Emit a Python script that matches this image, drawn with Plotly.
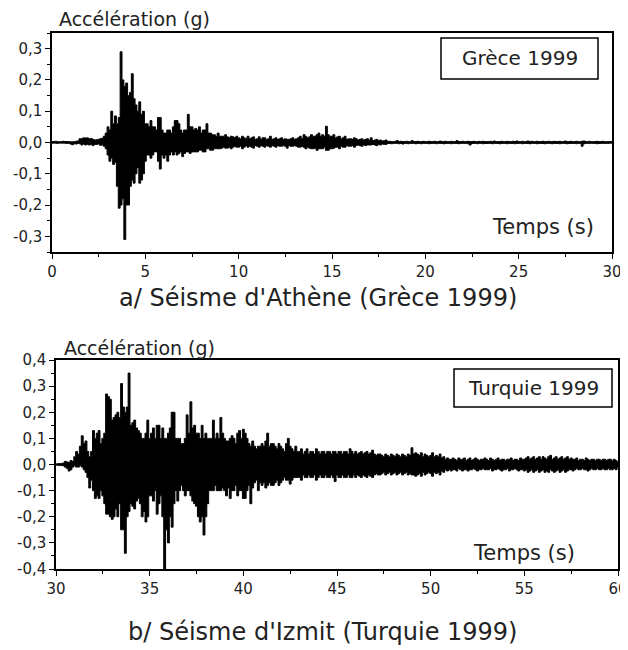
import plotly.graph_objects as go

# accelerogramme Grece 1999 : enveloppes haute et basse lues tous les 0.1 s (t = 0 a 30 s)
grece_t0 = 0.0
grece_dt = 0.1
grece_haut = [
    0.003, 0.003, 0.004, 0.003, 0.003, 0.003, 0.004, 0.003, 0.003, 0.003,
    0.002, 0.002, 0.003, 0.004, 0.005, 0.012, 0.012, 0.015, 0.014, 0.015,
    0.012, 0.013, 0.01, 0.008, 0.009, 0.01, 0.012, 0.014, 0.02, 0.03,
    0.05, 0.04, 0.1, 0.06, 0.085, 0.06, 0.08, 0.29, 0.2, 0.18,
    0.19, 0.15, 0.16, 0.22, 0.14, 0.12, 0.1, 0.13, 0.09, 0.1,
    0.06, 0.06, 0.05, 0.07, 0.05, 0.05, 0.04, 0.08, 0.08, 0.04,
    0.03, 0.03, 0.04, 0.04, 0.03, 0.05, 0.07, 0.07, 0.06, 0.04,
    0.03, 0.04, 0.04, 0.09, 0.05, 0.05, 0.04, 0.045, 0.04, 0.05,
    0.03, 0.04, 0.04, 0.06, 0.03, 0.03, 0.025, 0.025, 0.02, 0.03,
    0.02, 0.02, 0.02, 0.025, 0.018, 0.015, 0.02, 0.018, 0.015, 0.02,
    0.015, 0.012, 0.02, 0.015, 0.012, 0.02, 0.012, 0.015, 0.018, 0.01,
    0.012, 0.018, 0.01, 0.015, 0.015, 0.01, 0.012, 0.02, 0.01, 0.012,
    0.015, 0.01, 0.012, 0.015, 0.01, 0.012, 0.01, 0.01, 0.012, 0.015,
    0.01, 0.012, 0.015, 0.02, 0.012, 0.025, 0.02, 0.015, 0.018, 0.025,
    0.02, 0.02, 0.025, 0.03, 0.02, 0.025, 0.02, 0.052, 0.025, 0.02,
    0.02, 0.025, 0.015, 0.018, 0.02, 0.012, 0.015, 0.02, 0.01, 0.012,
    0.012, 0.01, 0.015, 0.012, 0.008, 0.01, 0.012, 0.008, 0.01, 0.012,
    0.008, 0.015, 0.006, 0.008, 0.01, 0.006, 0.008, 0.005, 0.006, 0.008,
    0.003, 0.004, 0.003, 0.003, 0.004, 0.006, 0.003, 0.004, 0.003, 0.003,
    0.004, 0.003, 0.003, 0.006, 0.003, 0.003, 0.004, 0.003, 0.003, 0.004,
    0.003, 0.003, 0.004, 0.003, 0.003, 0.004, 0.003, 0.003, 0.005, 0.003,
    0.003, 0.004, 0.003, 0.003, 0.004, 0.003, 0.003, 0.006, 0.003, 0.003,
    0.004, 0.003, 0.003, 0.004, 0.003, 0.003, 0.004, 0.003, 0.003, 0.004,
    0.003, 0.004, 0.003, 0.003, 0.003, 0.004, 0.003, 0.005, 0.003, 0.003,
    0.003, 0.004, 0.003, 0.003, 0.004, 0.003, 0.003, 0.004, 0.003, 0.005,
    0.003, 0.003, 0.004, 0.003, 0.003, 0.005, 0.003, 0.004, 0.003, 0.003,
    0.004, 0.003, 0.003, 0.004, 0.003, 0.003, 0.004, 0.003, 0.003, 0.004,
    0.003, 0.003, 0.004, 0.003, 0.003, 0.005, 0.003, 0.003, 0.004, 0.003,
    0.003, 0.004, 0.003, 0.003, 0.004, 0.005, 0.003, 0.003, 0.004, 0.003,
    0.003, 0.003, 0.004, 0.003, 0.003, 0.004, 0.003, 0.003, 0.003, 0.003,
    0.003,
]
grece_bas = [
    -0.002, -0.002, -0.002, -0.003, -0.002, -0.002, -0.002, -0.002, -0.003, -0.002,
    -0.005, -0.007, -0.004, -0.005, -0.003, -0.004, -0.008, -0.005, -0.008, -0.006,
    -0.008, -0.006, -0.01, -0.006, -0.006, -0.005, -0.009, -0.008, -0.012, -0.02,
    -0.04, -0.06, -0.05, -0.07, -0.063, -0.14, -0.21, -0.2, -0.18, -0.31,
    -0.2, -0.2, -0.14, -0.12, -0.13, -0.1, -0.08, -0.13, -0.12, -0.1,
    -0.06, -0.04, -0.04, -0.05, -0.04, -0.03, -0.03, -0.06, -0.085, -0.04,
    -0.05, -0.04, -0.06, -0.04, -0.03, -0.04, -0.03, -0.04, -0.035, -0.03,
    -0.045, -0.035, -0.03, -0.03, -0.035, -0.03, -0.03, -0.03, -0.03, -0.025,
    -0.025, -0.03, -0.03, -0.02, -0.02, -0.025, -0.025, -0.02, -0.02, -0.02,
    -0.02, -0.018, -0.015, -0.018, -0.018, -0.015, -0.02, -0.015, -0.012, -0.015,
    -0.015, -0.012, -0.02, -0.015, -0.01, -0.015, -0.012, -0.015, -0.018, -0.01,
    -0.012, -0.015, -0.01, -0.012, -0.015, -0.01, -0.012, -0.015, -0.01, -0.012,
    -0.015, -0.01, -0.012, -0.012, -0.01, -0.012, -0.018, -0.01, -0.012, -0.012,
    -0.01, -0.012, -0.015, -0.015, -0.012, -0.015, -0.02, -0.015, -0.018, -0.02,
    -0.02, -0.018, -0.025, -0.02, -0.02, -0.02, -0.015, -0.025, -0.025, -0.02,
    -0.02, -0.018, -0.015, -0.015, -0.02, -0.012, -0.015, -0.015, -0.01, -0.012,
    -0.012, -0.01, -0.015, -0.01, -0.008, -0.01, -0.012, -0.008, -0.01, -0.008,
    -0.008, -0.008, -0.006, -0.008, -0.01, -0.006, -0.008, -0.005, -0.006, -0.006,
    -0.003, -0.003, -0.004, -0.003, -0.003, -0.003, -0.004, -0.003, -0.005, -0.003,
    -0.003, -0.004, -0.003, -0.003, -0.003, -0.004, -0.003, -0.003, -0.004, -0.003,
    -0.003, -0.003, -0.004, -0.003, -0.003, -0.003, -0.004, -0.003, -0.003, -0.003,
    -0.004, -0.003, -0.003, -0.003, -0.004, -0.003, -0.003, -0.003, -0.004, -0.003,
    -0.003, -0.003, -0.003, -0.004, -0.008, -0.003, -0.003, -0.003, -0.004, -0.003,
    -0.003, -0.004, -0.003, -0.003, -0.003, -0.003, -0.004, -0.003, -0.003, -0.003,
    -0.004, -0.003, -0.003, -0.003, -0.004, -0.003, -0.003, -0.003, -0.004, -0.003,
    -0.003, -0.003, -0.004, -0.003, -0.003, -0.003, -0.004, -0.003, -0.003, -0.003,
    -0.004, -0.003, -0.003, -0.003, -0.004, -0.003, -0.003, -0.003, -0.004, -0.003,
    -0.003, -0.003, -0.004, -0.003, -0.003, -0.003, -0.004, -0.003, -0.003, -0.003,
    -0.003, -0.004, -0.003, -0.003, -0.012, -0.004, -0.003, -0.003, -0.003, -0.003,
    -0.003, -0.003, -0.004, -0.003, -0.003, -0.003, -0.003, -0.003, -0.003, -0.002,
    -0.002,
]

# accelerogramme Turquie 1999 : enveloppes haute et basse lues tous les 0.1 s (t = 30 a 60 s)
turquie_t0 = 30.0
turquie_dt = 0.1
turquie_haut = [
    0.002, 0.003, 0.004, 0.004, 0.006, 0.012, 0.01, 0.008, 0.015, 0.012,
    0.03, 0.05, 0.04, 0.07, 0.11, 0.08, 0.09, 0.05, 0.03, 0.05,
    0.13, 0.1, 0.12, 0.13, 0.08, 0.1, 0.12, 0.27, 0.26, 0.25,
    0.17, 0.18, 0.19, 0.2, 0.18, 0.31, 0.22, 0.2, 0.22, 0.35,
    0.15, 0.16, 0.17, 0.14, 0.13, 0.12, 0.1, 0.1, 0.12, 0.17,
    0.1, 0.12, 0.14, 0.1, 0.15, 0.15, 0.1, 0.14, 0.1, 0.1,
    0.12, 0.14, 0.2, 0.2, 0.1, 0.1, 0.1, 0.08, 0.08, 0.1,
    0.19, 0.12, 0.24, 0.14, 0.15, 0.12, 0.12, 0.1, 0.15, 0.1,
    0.12, 0.1, 0.1, 0.1, 0.17, 0.1, 0.12, 0.1, 0.18, 0.12,
    0.1, 0.09, 0.09, 0.1, 0.11, 0.1, 0.08, 0.12, 0.13, 0.1,
    0.135, 0.12, 0.1, 0.08, 0.07, 0.09, 0.07, 0.06, 0.07, 0.07,
    0.08, 0.07, 0.09, 0.12, 0.07, 0.08, 0.08, 0.07, 0.06, 0.08,
    0.07, 0.06, 0.05, 0.08, 0.1, 0.07, 0.06, 0.05, 0.07, 0.05,
    0.05, 0.06, 0.04, 0.05, 0.06, 0.04, 0.05, 0.05, 0.04, 0.06,
    0.05, 0.04, 0.05, 0.05, 0.04, 0.05, 0.05, 0.04, 0.05, 0.05,
    0.04, 0.05, 0.05, 0.04, 0.05, 0.05, 0.04, 0.06, 0.05, 0.04,
    0.05, 0.04, 0.045, 0.05, 0.04, 0.045, 0.05, 0.04, 0.045, 0.055,
    0.04, 0.035, 0.04, 0.04, 0.035, 0.03, 0.04, 0.035, 0.03, 0.04,
    0.035, 0.03, 0.04, 0.035, 0.03, 0.04, 0.035, 0.03, 0.04, 0.035,
    0.064, 0.04, 0.045, 0.04, 0.035, 0.045, 0.03, 0.04, 0.035, 0.03,
    0.035, 0.045, 0.03, 0.035, 0.03, 0.04, 0.025, 0.03, 0.02, 0.025,
    0.02, 0.02, 0.025, 0.02, 0.015, 0.025, 0.02, 0.02, 0.025, 0.015,
    0.02, 0.025, 0.015, 0.02, 0.025, 0.02, 0.015, 0.02, 0.02, 0.025,
    0.02, 0.015, 0.025, 0.02, 0.015, 0.02, 0.025, 0.015, 0.02, 0.02,
    0.015, 0.02, 0.02, 0.025, 0.015, 0.02, 0.02, 0.015, 0.025, 0.02,
    0.02, 0.025, 0.03, 0.02, 0.025, 0.03, 0.02, 0.025, 0.03, 0.02,
    0.03, 0.025, 0.02, 0.03, 0.035, 0.02, 0.025, 0.03, 0.02, 0.025,
    0.03, 0.02, 0.025, 0.03, 0.02, 0.025, 0.02, 0.02, 0.025, 0.015,
    0.02, 0.02, 0.015, 0.025, 0.02, 0.015, 0.02, 0.02, 0.015, 0.02,
    0.02, 0.015, 0.02, 0.02, 0.015, 0.02, 0.02, 0.015, 0.02, 0.015,
    0.01,
]
turquie_bas = [
    -0.002, -0.003, -0.004, -0.004, -0.005, -0.01, -0.015, -0.025, -0.02, -0.01,
    -0.005, -0.01, -0.01, -0.005, -0.01, -0.02, -0.03, -0.05, -0.09, -0.06,
    -0.1, -0.13, -0.12, -0.13, -0.1, -0.12, -0.15, -0.19, -0.19, -0.2,
    -0.21, -0.2, -0.17, -0.2, -0.15, -0.25, -0.25, -0.34, -0.2, -0.18,
    -0.15, -0.16, -0.17, -0.14, -0.13, -0.15, -0.2, -0.18, -0.22, -0.2,
    -0.12, -0.12, -0.14, -0.1, -0.19, -0.15, -0.12, -0.2, -0.4, -0.25,
    -0.3, -0.2, -0.24, -0.15, -0.1, -0.14, -0.1, -0.08, -0.1, -0.12,
    -0.1, -0.1, -0.12, -0.14, -0.15, -0.16, -0.2, -0.22, -0.2, -0.27,
    -0.2, -0.15, -0.1, -0.1, -0.1, -0.08, -0.1, -0.1, -0.1, -0.09,
    -0.1, -0.12, -0.09, -0.13, -0.1, -0.1, -0.08, -0.12, -0.1, -0.1,
    -0.13, -0.13, -0.1, -0.08, -0.15, -0.09, -0.07, -0.06, -0.1, -0.07,
    -0.08, -0.07, -0.09, -0.08, -0.07, -0.08, -0.08, -0.07, -0.06, -0.08,
    -0.07, -0.06, -0.05, -0.06, -0.06, -0.075, -0.06, -0.05, -0.05, -0.05,
    -0.05, -0.06, -0.04, -0.05, -0.05, -0.04, -0.05, -0.05, -0.04, -0.06,
    -0.05, -0.04, -0.05, -0.05, -0.04, -0.05, -0.05, -0.04, -0.05, -0.065,
    -0.04, -0.05, -0.05, -0.04, -0.05, -0.05, -0.04, -0.05, -0.05, -0.04,
    -0.05, -0.04, -0.045, -0.05, -0.04, -0.045, -0.05, -0.04, -0.045, -0.05,
    -0.04, -0.035, -0.04, -0.04, -0.035, -0.03, -0.04, -0.035, -0.03, -0.04,
    -0.035, -0.03, -0.04, -0.035, -0.03, -0.04, -0.035, -0.03, -0.04, -0.035,
    -0.04, -0.04, -0.045, -0.04, -0.035, -0.045, -0.03, -0.04, -0.035, -0.03,
    -0.035, -0.045, -0.03, -0.035, -0.03, -0.04, -0.025, -0.03, -0.02, -0.025,
    -0.02, -0.025, -0.02, -0.02, -0.025, -0.015, -0.02, -0.025, -0.02, -0.02,
    -0.025, -0.02, -0.02, -0.015, -0.02, -0.025, -0.02, -0.02, -0.015, -0.02,
    -0.02, -0.02, -0.015, -0.025, -0.02, -0.02, -0.015, -0.02, -0.025, -0.02,
    -0.02, -0.015, -0.025, -0.02, -0.02, -0.015, -0.02, -0.025, -0.02, -0.02,
    -0.025, -0.02, -0.03, -0.025, -0.02, -0.03, -0.025, -0.02, -0.03, -0.025,
    -0.02, -0.03, -0.025, -0.03, -0.02, -0.025, -0.03, -0.025, -0.02, -0.03,
    -0.025, -0.02, -0.03, -0.025, -0.02, -0.02, -0.025, -0.02, -0.015, -0.02,
    -0.02, -0.015, -0.02, -0.02, -0.025, -0.02, -0.015, -0.02, -0.02, -0.015,
    -0.02, -0.02, -0.015, -0.02, -0.02, -0.015, -0.02, -0.02, -0.015, -0.02,
    -0.01,
]

# graduations
x1_ticks = [0, 5, 10, 15, 20, 25, 30]
y1_ticks = [-0.3, -0.2, -0.1, 0.0, 0.1, 0.2, 0.3]
y1_labels = ["-0,3", "-0,2", "-0,1", "0,0", "0,1", "0,2", "0,3"]
x2_ticks = [30, 35, 40, 45, 50, 55, 60]
y2_ticks = [-0.4, -0.3, -0.2, -0.1, 0.0, 0.1, 0.2, 0.3, 0.4]
y2_labels = ["-0,4", "-0,3", "-0,2", "-0,1", "0,0", "0,1", "0,2", "0,3", "0,4"]

# la page ajoute une marge de 8 px autour de la figure
OFF = 8
W, H = 628 - OFF, 650 - OFF
FONT = "DejaVu Sans"


def px(x, y):
    # pixels de l'ecran -> coordonnees papier
    return (x - OFF) / W, 1 - (y - OFF) / H


def dom_x(a, b):
    return [px(a, 0)[0], px(b, 0)[0]]


def dom_y(top, bottom):
    return [px(0, bottom)[1], px(0, top)[1]]


fig = go.Figure()
for t0, dt, bas, haut, xa, ya in [(grece_t0, grece_dt, grece_bas, grece_haut, "x", "y"),
                                  (turquie_t0, turquie_dt, turquie_bas, turquie_haut, "x2", "y2")]:
    # enveloppe basse puis remplissage jusqu'a l'enveloppe haute
    fig.add_trace(go.Scatter(x0=t0, dx=dt, y=bas, mode="lines",
                             line=dict(color="black", width=1, shape="hvh"),
                             xaxis=xa, yaxis=ya, showlegend=False))
    fig.add_trace(go.Scatter(x0=t0, dx=dt, y=haut, mode="lines",
                             line=dict(color="black", width=1, shape="hvh"),
                             fill="tonexty", fillcolor="black",
                             xaxis=xa, yaxis=ya, showlegend=False))

axis_style = dict(showline=True, linecolor="black", linewidth=1.5, mirror=True,
                  ticks="outside", ticklen=5, tickwidth=1.2, tickcolor="black",
                  showgrid=False, zeroline=False, automargin=False,
                  tickfont=dict(family=FONT, size=15, color="#222"))

fig.update_layout(
    template="none",
    width=W, height=H,
    margin=dict(l=0, r=0, t=0, b=0),
    plot_bgcolor="white", paper_bgcolor="white",
    xaxis=dict(axis_style, domain=dom_x(52, 612), range=[0, 30],
               tickvals=x1_ticks, anchor="y",
               minor=dict(ticks="outside", ticklen=3, dtick=2.5, tickcolor="black")),
    yaxis=dict(axis_style, domain=dom_y(33, 252), range=[-0.35, 0.35],
               tickvals=y1_ticks, ticktext=y1_labels, anchor="x",
               minor=dict(ticks="outside", ticklen=3, dtick=0.05, tickcolor="black")),
    xaxis2=dict(axis_style, domain=dom_x(56, 618), range=[30, 60],
                tickvals=x2_ticks, anchor="y2",
                minor=dict(ticks="outside", ticklen=3, dtick=2.5, tickcolor="black")),
    yaxis2=dict(axis_style, domain=dom_y(360, 569), range=[-0.4, 0.4],
                tickvals=y2_ticks, ticktext=y2_labels, anchor="x2",
                minor=dict(ticks="outside", ticklen=3, dtick=0.05, tickcolor="black")),
)

notes = [
    ("Accélération (g)", 57, 19, "left", 19),
    ("Accélération (g)", 62, 348, "left", 19),
    ("Temps (s)", 543, 227, "center", 21),
    ("Temps (s)", 524, 553, "center", 21),
    ("a/ Séisme d'Athène (Grèce 1999)", 318, 298, "center", 24),
    ("b/ Séisme d'Izmit (Turquie 1999)", 322, 632, "center", 24),
]
for txt, x, y, anchor, size in notes:
    ax, ay = px(x, y)
    fig.add_annotation(text=txt, x=ax, y=ay, xref="paper", yref="paper",
                       xanchor=anchor, yanchor="middle", showarrow=False,
                       font=dict(family=FONT, size=size, color="#222"))

# cadres des legendes
for txt, x0, y0, x1, y1, size in [("Grèce 1999", 441, 38, 598, 79, 20),
                                  ("Turquie 1999", 454, 369, 612, 407, 20)]:
    a0, b0 = px(x0, y0)
    a1, b1 = px(x1, y1)
    fig.add_shape(type="rect", x0=a0, y0=b0, x1=a1, y1=b1, xref="paper", yref="paper",
                  line=dict(color="black", width=1.5), fillcolor="white")
    cx, cy = px((x0 + x1) / 2, (y0 + y1) / 2)
    fig.add_annotation(text=txt, x=cx, y=cy, xref="paper", yref="paper",
                       xanchor="center", yanchor="middle", showarrow=False,
                       font=dict(family=FONT, size=size, color="#222"))

fig.write_html("out.html")
